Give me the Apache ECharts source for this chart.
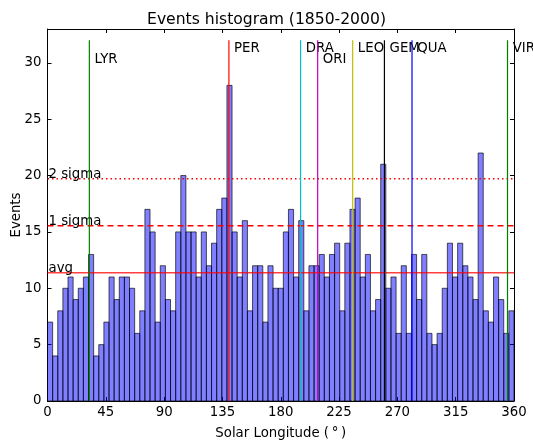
<!DOCTYPE html>
<html>
<head>
<meta charset="utf-8">
<script src="https://cdn.jsdelivr.net/npm/echarts@6/dist/echarts.min.js"></script>
<style>
html,body{margin:0;padding:0;background:#fff;}
#chart{width:533px;height:441px;}
</style>
</head>
<body>
<div id="chart"></div>
<script>
// Histogram counts (91 bins spanning 0..360 deg solar longitude)
var counts = [7,4,8,10,11,9,10,11,13,4,5,7,11,9,11,11,10,6,8,17,15,7,12,9,
  8,15,20,15,15,11,15,12,14,17,18,28,15,11,16,8,12,12,7,12,10,10,15,17,
  11,16,8,12,12,13,11,13,14,8,14,17,18,11,13,8,9,21,10,11,6,12,6,
  13,9,13,6,5,6,10,14,11,14,12,11,9,22,8,7,11,9,6,8];
var rangeStart = 0, rangeEnd = 360;
// Meteor shower markers
var showerNames = ['LYR','PER','DRA','ORI','LEO','GEM','QUA','VIR'];
var showerLongitudes = [32.3,140.0,195.3,208.5,235.5,260.0,281.3,355.0];
var showerColors = ['#008000','#ff0000','#00bfbf','#bf00bf','#bfbf00','#000000','#0000ff','#008000'];
var showerLabelLevel = [30.3,31.3,31.3,30.3,31.3,31.3,31.3,31.3];
var showerLineTop = 32;
var xTicks = [0,45,90,135,180,225,270,315,360];
var yTicks = [0,5,10,15,20,25,30];

var FONT = 'DejaVu Sans';
var FS = 13.3;
var nb = counts.length;
var bw = (rangeEnd - rangeStart) / nb;
var barData = counts.map(function (c, i) { return [rangeStart + i * bw, rangeStart + (i + 1) * bw, c]; });
var mean = counts.reduce(function (a, b) { return a + b; }, 0) / nb;
var sd = Math.sqrt(counts.reduce(function (a, b) { return a + (b - mean) * (b - mean); }, 0) / nb);
var statData = [[mean, 'avg', 'solid'], [mean + sd, '1 sigma', 'dashed'], [mean + 2 * sd, '2 sigma', 'dotted']];
var showerData = showerNames.map(function (n, i) { return [showerLongitudes[i], showerLabelLevel[i], n, showerColors[i]]; });

var chart = echarts.init(document.getElementById('chart'), null, {renderer: 'canvas'});
var axisCommon = {
  axisLine: {show: true, onZero: false, lineStyle: {color: '#000', width: 1}},
  axisTick: {show: true, inside: true, length: 4, lineStyle: {color: '#000'}},
  splitLine: {show: false}
};
var option = {
  backgroundColor: '#fff',
  animation: false,
  title: {text: 'Events histogram (1850-2000)', left: 'center', top: 7,
    textStyle: {fontFamily: FONT, fontSize: 15.6, fontWeight: 'normal', color: '#000'}},
  grid: {left: 47.5, right: 19, top: 29, bottom: 40, containLabel: false, outerBoundsMode: 'none'},
  xAxis: [
    Object.assign({type: 'value', min: rangeStart, max: rangeEnd, interval: 45, position: 'bottom',
      name: 'Solar Longitude (\u2009\u00b0\u2009)', nameLocation: 'middle', nameGap: 26, nameMoveOverlap: false,
      nameTextStyle: {fontFamily: FONT, fontSize: FS, color: '#000'},
      axisLabel: {fontFamily: FONT, fontSize: FS, color: '#000', margin: 5,
        formatter: function (v) { return xTicks.indexOf(v) >= 0 ? String(v) : ''; }}}, axisCommon),
    Object.assign({type: 'value', min: rangeStart, max: rangeEnd, interval: 45, position: 'top',
      axisLabel: {show: false}}, axisCommon)
  ],
  yAxis: [
    Object.assign({type: 'value', min: 0, max: 33, interval: 5, position: 'left',
      name: 'Events', nameLocation: 'middle', nameGap: 24, nameMoveOverlap: false,
      nameTextStyle: {fontFamily: FONT, fontSize: FS, color: '#000'},
      axisLabel: {fontFamily: FONT, fontSize: FS, color: '#000', margin: 6,
        formatter: function (v) { return yTicks.indexOf(v) >= 0 ? String(v) : ''; }}}, axisCommon),
    Object.assign({type: 'value', min: 0, max: 33, interval: 5, position: 'right',
      axisLabel: {show: false}}, axisCommon)
  ],
  series: [
    {
      type: 'custom', coordinateSystem: 'cartesian2d', xAxisIndex: 0, yAxisIndex: 0,
      encode: {x: [0, 1], y: 2}, data: barData, clip: true, z: 2,
      renderItem: function (params, api) {
        var p0 = api.coord([api.value(0), api.value(2)]);
        var p1 = api.coord([api.value(1), 0]);
        return {type: 'rect', shape: {x: p0[0], y: p0[1], width: p1[0] - p0[0], height: p1[1] - p0[1]},
          style: {fill: 'rgba(0,0,255,0.5)', stroke: 'rgba(0,0,0,0.65)', lineWidth: 1}};
      }
    },
    {
      type: 'custom', coordinateSystem: 'cartesian2d', xAxisIndex: 0, yAxisIndex: 0,
      encode: {y: 0}, data: statData, clip: true, z: 3,
      renderItem: function (params, api) {
        var d = statData[params.dataIndex];
        var a = api.coord([rangeStart, d[0]]);
        var b = api.coord([rangeEnd, d[0]]);
        var dash = d[2] === 'dashed' ? [6, 4] : (d[2] === 'dotted' ? [1.5, 3] : null);
        return {type: 'group', children: [
          {type: 'line', shape: {x1: a[0], y1: a[1], x2: b[0], y2: b[1]},
            style: {stroke: d[2] === 'solid' ? 'rgba(255,0,0,0.75)' : '#ff0000', lineWidth: 1.5, lineDash: dash}},
          {type: 'text', style: {text: d[1], x: a[0] + 1, y: a[1] + 2, fill: '#000',
            font: FS + 'px "' + FONT + '"', align: 'left', verticalAlign: 'bottom'}}
        ]};
      }
    },
    {
      type: 'custom', coordinateSystem: 'cartesian2d', xAxisIndex: 0, yAxisIndex: 0,
      encode: {x: 0, y: 1}, data: showerData, clip: false, z: 4,
      renderItem: function (params, api) {
        var d = showerData[params.dataIndex];
        var bot = api.coord([d[0], 0]);
        var top = api.coord([d[0], showerLineTop]);
        var lab = api.coord([d[0] + 4, d[1]]);
        return {type: 'group', children: [
          {type: 'line', shape: {x1: bot[0], y1: bot[1], x2: top[0], y2: top[1]},
            style: {stroke: d[3], lineWidth: 1.2}},
          {type: 'text', style: {text: d[2], x: lab[0], y: lab[1], fill: '#000',
            font: FS + 'px "' + FONT + '"', align: 'left', verticalAlign: 'middle'}}
        ]};
      }
    }
  ]
};
chart.setOption(option);
</script>
</body>
</html>
